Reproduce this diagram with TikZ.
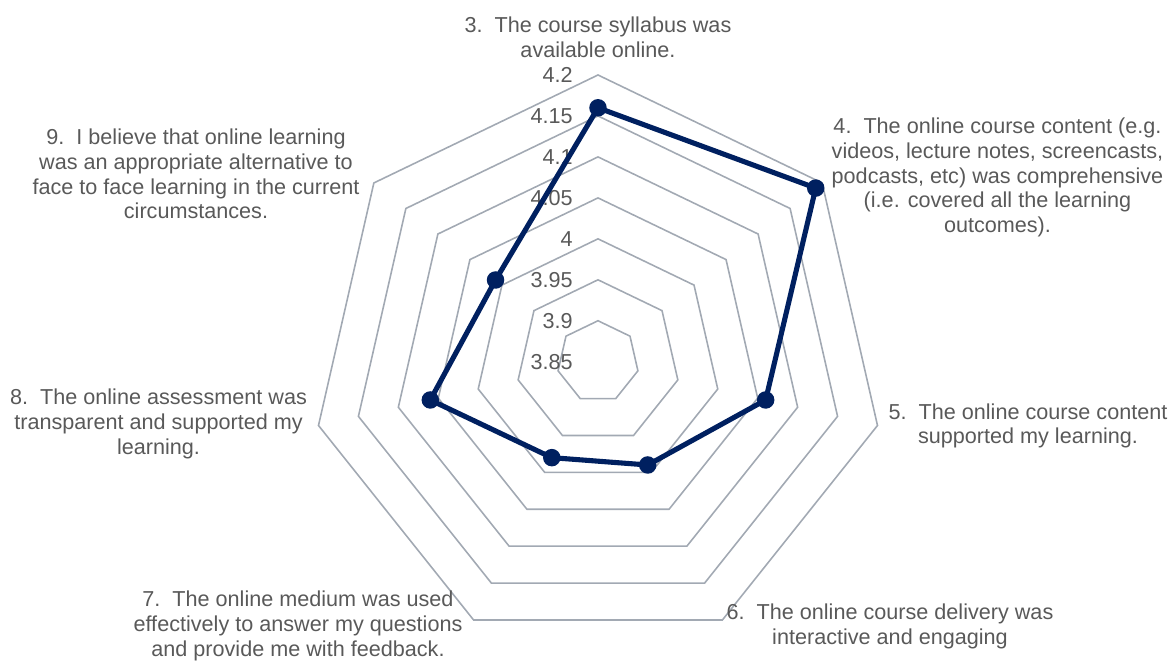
\documentclass[tikz,border=0pt]{standalone}
\usepackage{fontspec}
\setmainfont{Liberation Sans}
\definecolor{navy}{HTML}{002060}
\definecolor{ringgray}{HTML}{A2A9B3}
\definecolor{textgray}{HTML}{595959}
\tikzset{
  ring/.style={draw=ringgray, line width=0.9pt, line join=miter},
  series/.style={draw=navy, line width=2.9pt, line join=round},
  dot/.style={circle, fill=navy, inner sep=0pt, minimum size=0.35cm},
  tick/.style={text=textgray, font=\fontsize{12.3}{14}\selectfont, anchor=east, inner sep=0pt},
  catlabel/.style={text=textgray, font=\fontsize{12.3}{14}\selectfont, align=center, inner sep=0pt}
}
\begin{document}
\begin{tikzpicture}
	  \useasboundingbox (-11.96,-5.986) rectangle (11.5,7.234);

	  % rings, 0.05 apart
	  \draw [ring] (90:0.819)--(38.571:0.819)--(-12.857:0.819)--(-64.286:0.819)--(-115.714:0.819)--(-167.143:0.819)--(141.429:0.819)--cycle;
	  \draw [ring] (90:1.638)--(38.571:1.638)--(-12.857:1.638)--(-64.286:1.638)--(-115.714:1.638)--(-167.143:1.638)--(141.429:1.638)--cycle;
	  \draw [ring] (90:2.457)--(38.571:2.457)--(-12.857:2.457)--(-64.286:2.457)--(-115.714:2.457)--(-167.143:2.457)--(141.429:2.457)--cycle;
	  \draw [ring] (90:3.276)--(38.571:3.276)--(-12.857:3.276)--(-64.286:3.276)--(-115.714:3.276)--(-167.143:3.276)--(141.429:3.276)--cycle;
	  \draw [ring] (90:4.096)--(38.571:4.096)--(-12.857:4.096)--(-64.286:4.096)--(-115.714:4.096)--(-167.143:4.096)--(141.429:4.096)--cycle;
	  \draw [ring] (90:4.915)--(38.571:4.915)--(-12.857:4.915)--(-64.286:4.915)--(-115.714:4.915)--(-167.143:4.915)--(141.429:4.915)--cycle;
	  \draw [ring] (90:5.734)--(38.571:5.734)--(-12.857:5.734)--(-64.286:5.734)--(-115.714:5.734)--(-167.143:5.734)--(141.429:5.734)--cycle;

	  % scale
	  \node [tick] (t385) at (-0.5,0) {3.85};
	  \node [tick] (t390) at (-0.5,0.819) {3.9};
	  \node [tick] (t395) at (-0.5,1.638) {3.95};
	  \node [tick] (t400) at (-0.5,2.457) {4};
	  \node [tick] (t405) at (-0.5,3.276) {4.05};
	  \node [tick] (t410) at (-0.5,4.096) {4.1};
	  \node [tick] (t415) at (-0.5,4.915) {4.15};
	  \node [tick] (t420) at (-0.5,5.734) {4.2};

	  % scores
	  \coordinate (p3) at (90:5.078);
	  \coordinate (p4) at (38.571:5.570);
	  \coordinate (p5) at (-12.857:3.440);
	  \coordinate (p6) at (-64.286:2.293);
	  \coordinate (p7) at (-115.714:2.130);
	  \coordinate (p8) at (-167.143:3.440);
	  \coordinate (p9) at (141.429:2.621);

	  \draw [series] (p3)--(p4)--(p5)--(p6)--(p7)--(p8)--(p9)--cycle;
	  \node [dot] (d3) at (p3) {};
	  \node [dot] (d4) at (p4) {};
	  \node [dot] (d5) at (p5) {};
	  \node [dot] (d6) at (p6) {};
	  \node [dot] (d7) at (p7) {};
	  \node [dot] (d8) at (p8) {};
	  \node [dot] (d9) at (p9) {};

	  % questions
	  \node [catlabel] (q3) at (0,6.494) {3.\ \ The course syllabus was\\available online.};
	  \node [catlabel] (q4) at (7.99,3.684) {4.\ \ The online course content (e.g.\\videos, lecture notes, screencasts,\\podcasts, etc) was comprehensive\\(i.e. covered all the learning\\outcomes).};
	  \node [catlabel] (q5) at (8.6,-1.286) {5.\ \ The online course content\\supported my learning.};
	  \node [catlabel] (q6) at (5.84,-5.3) {6.\ \ The online course delivery was\\interactive and engaging};
	  \node [catlabel] (q7) at (-6.0,-5.286) {7.\ \ The online medium was used\\effectively to answer my questions\\and provide me with feedback.};
	  \node [catlabel] (q8) at (-8.79,-1.246) {8.\ \ The online assessment was\\transparent and supported my\\learning.};
	  \node [catlabel] (q9) at (-8.04,3.754) {9.\ \ I believe that online learning\\was an appropriate alternative to\\face to face learning in the current\\circumstances.};
	\end{tikzpicture}
\end{document}
